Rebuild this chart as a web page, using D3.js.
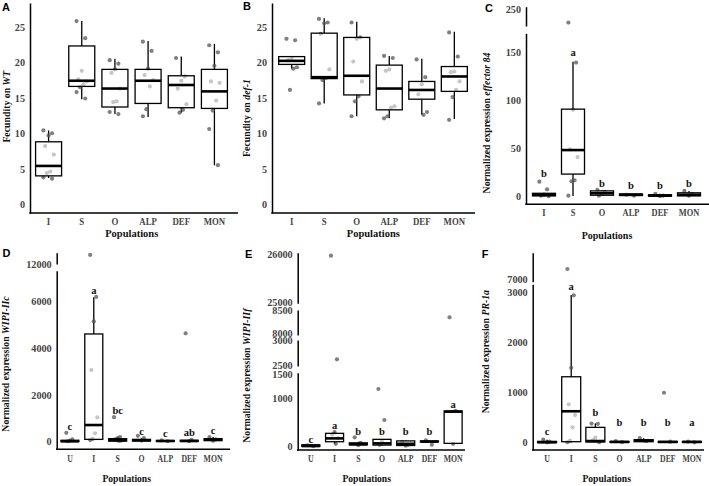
<!DOCTYPE html>
<html>
<head>
<meta charset="utf-8">
<script src="https://cdn.jsdelivr.net/npm/d3@7"></script>
<style>
body { margin:0; background:#fff; }
</style>
</head>
<body>
<svg id="fig" width="709" height="486"></svg>
<script>
const popsAB = ["I","S","O","ALP","DEF","MON"];
const popsDEF = ["U","I","S","O","ALP","DEF","MON"];

// box stats per population: [whisker low, q1, median, q3, whisker high]
const fecWT_box = [[3.7,4.0,5.4,8.8,10.4],[14.8,16.6,17.4,22.3,25.8],[12.7,13.7,16.3,19.0,20.5],
                   [12.3,14.2,17.4,19.0,23.0],[12.9,13.6,16.8,18.1,20.8],[5.5,13.5,15.9,19.0,22.6]];
const fecWT_pts = [[10.4,10.0,9.7,8.2,7.0,4.6,4.4,3.8,3.6],[25.8,23.4,18.8,17.6,17.3,16.9,16.5,15.8,14.9],
                   [20.3,19.8,19.0,18.5,16.3,14.5,14.4,13.0,12.7],[22.9,21.6,19.1,18.2,17.5,16.6,13.4,12.4],
                   [20.6,18.0,17.4,16.3,14.1,13.3,12.9],[22.4,21.4,19.5,17.3,17.1,14.6,13.2,10.6,5.5]];

const fecDef_box = [[19.1,19.7,20.2,20.8,20.8],[14.2,17.7,17.9,24.1,26.2],[12.4,15.4,18.1,23.5,25.7],
                    [12.1,13.3,16.3,19.6,20.9],[12.6,14.8,16.1,17.3,20.5],[12.0,15.9,18.0,19.4,24.3]];
const fecDef_pts = [[23.3,23.1,20.6,20.3,19.3,19.1,16.1],[26.1,25.6,25.5,24.0,19.0,17.8,17.5,14.2],
                    [25.6,23.5,23.3,20.1,17.3,15.2,14.5,12.4],[20.9,20.6,19.0,18.8,13.8,13.6,12.4,12.1],
                    [20.4,17.9,16.9,15.5,13.0,12.6],[24.2,20.8,18.7,18.6,17.3,16.1,15.1,11.9]];

const eff84_box = [[0.5,0.8,2,3.5,4],[0.7,23.4,48.3,90.7,139.7],[1,1.5,3.5,6,7],
                   [1,1.2,2,2.8,3],[0.5,0.6,1,2,3],[0.5,0.8,2,4,6]];
const eff84_pts = [[15.5,7.6,2,1,0.5],[186,139,90,49,41,17,16,1],[7,5,3,1],[2,1],[3,1,0.5],[6,3,1]];
const eff84_letters = ["b","a","b","b","b","b"];
const eff84_letterY = [24,150,14,12,12,14];

const wipiC_box = [[0,5,20,60,100],[70,100,714,4614,6186],[20,30,60,130,200],[20,30,60,100,150],
                   [10,15,30,50,60],[10,15,30,60,80],[40,50,80,130,200]];
const wipiC_pts = [[380,100,50,20],[12600,6200,5150,3070,1040,360,120,70],[1050,200,150,100,50,30],
                   [250,150,50],[60,20],[4640,80,20],[200,100,40]];
const wipiC_letters = ["c","a","bc","c","c","ab","c"];
const wipiC_letterY = [642,6467,1357,458,360,385,471];

const wipiF_box = [[0,5,15,40,50],[55,103,172,276,310],[30,40,50,80,100],[20,34,69,152,160],
                   [20,25,60,120,130],[100,100,105,120,130],[60,69,724,738,740]];
const wipiF_pts = [[30,10],[25965,2617,300,250,180,60],[193,80,30],[1192,552,100,40],
                   [100,40,20],[130,40],[8343,740,60]];
const wipiF_letters = ["c","a","b","b","b","b","a"];
const wipiF_letterY = [159,434,324,324,310,310,876];

const pr1a_box = [[0,3,10,25,60],[5,20,625,1311,2934],[10,15,33,305,384],[5,8,15,25,35],
                  [10,20,40,60,90],[5,8,15,25,30],[5,8,15,25,30]];
const pr1a_pts = [[60,20,5],[7382,2930,1490,762,550,305,40,10],[380,375,100,50,10],[30,10],
                  [90,30],[993,20],[20,5]];
const pr1a_letters = ["c","a","b","b","b","b","a"];
const pr1a_letterY = [219,3100,596,397,397,397,397];

const serif = '"Liberation Serif", "DejaVu Serif", serif';
const svg = d3.select("#fig");

const panels = [
  { tag:"A", pops:popsAB, box:fecWT_box, pts:fecWT_pts, ylab:["Fecundity on ","WT"],
    L:{ axisX:30, axisY:213, axisRight:238, xr:[32,231], bw:26, tickY:222, xs:0.84, popSize:10.5,
        segs:[{d:[-1.23,28.35], r:[213,3], t:[0,5,10,15,20,25]}],
        tag:[2,10.5], ylab:[6.3,106.7], pop:[131.7,233.3] } },
  { tag:"B", pops:popsAB, box:fecDef_box, pts:fecDef_pts, ylab:["Fecundity on ","def-1"],
    L:{ axisX:272, axisY:213, axisRight:475, xr:[275.4,470.6], bw:26, tickY:222, xs:0.84, popSize:10.5,
        segs:[{d:[-1.23,28.35], r:[213,3], t:[0,5,10,15,20,25]}],
        tag:[243,10], ylab:[247,118], pop:[373.3,233.3] } },
  { tag:"C", pops:popsAB, box:eff84_box, pts:eff84_pts, letters:eff84_letters, letterY:eff84_letterY,
    ylab:["Normalized expression  ","effector 84"],
    L:{ axisX:526, axisY:204.3, axisRight:709, xr:[529.5,703.5], bw:23, tickY:212.3, xs:0.8, popSize:10,
        segs:[{d:[-7.9,169.3], r:[204.3,33.3], t:[0,50,100,150]}, {d:[170,260], r:[26,6.7], t:[250]}],
        tag:[485,11.7], ylab:[486.3,123], pop:[607,235] } },
  { tag:"D", pops:popsDEF, box:wipiC_box, pts:wipiC_pts, letters:wipiC_letters, letterY:wipiC_letterY,
    ylab:["Normalized expression  ","WIPI-IIc"],
    L:{ axisX:56.7, axisY:449.3, axisRight:230, xr:[58,225], bw:18, tickY:459, xs:0.74, popSize:9.6,
        segs:[{d:[-325,7323], r:[449.3,270.7], t:[0,2000,4000,6000]}, {d:[12000,12750], r:[264,252.7], t:[12000]}],
        tag:[2.5,256.7], ylab:[6,364], pop:[126.7,479] } },
  { tag:"E", pops:popsDEF, box:wipiF_box, pts:wipiF_pts, letters:wipiF_letters, letterY:wipiF_letterY,
    ylab:["Normalized expression  ","WIPI-IIf"],
    L:{ axisX:297.7, axisY:450, axisRight:465, xr:[299,465], bw:18, tickY:458.3, xs:0.74, popSize:9.6,
        segs:[{d:[-68,1529], r:[450,372.7], t:[0,1000,1500]}, {d:[2479,3014], r:[366,340], t:[2500,3000]},
              {d:[7964,8500], r:[335,310], t:[8000,8500]}, {d:[24979,26027], r:[303.3,252.7], t:[25000,26000]}],
        tag:[245,258.3], ylab:[247,375.7], pop:[366.7,479] } },
  { tag:"F", pops:popsDEF, box:pr1a_box, pts:pr1a_pts, letters:pr1a_letters, letterY:pr1a_letterY,
    ylab:["Normalized expression  ","PR-1a"],
    L:{ axisX:532.7, axisY:450, axisRight:704, xr:[535,704], bw:19, tickY:459, xs:0.74, popSize:9.6,
        segs:[{d:[-145,3149], r:[450,284.3], t:[0,1000,2000,3000]}, {d:[6900,8000], r:[281.7,252.7], t:[7000]}],
        tag:[481.7,258.3], ylab:[486,351.7], pop:[606.7,479] } }
];

function drawPanel(p) {
  const L = p.L;
  const g = svg.append("g");
  const x = d3.scaleBand().domain(p.pops).range(L.xr);
  const segs = L.segs.map(s => ({ d:s.d, t:s.t, scale:d3.scaleLinear().domain(s.d).range(s.r) }));
  const yOf = v => (segs.find(s => v >= s.d[0] && v <= s.d[1]) || segs[0]).scale(v);
  const cx = k => x(k) + x.bandwidth() / 2;

  // y axis, one piece per segment (broken axis)
  segs.forEach(s => {
    const ax = g.append("g")
      .attr("transform", `translate(${L.axisX},0)`)
      .call(d3.axisLeft(s.scale).tickValues(s.t).tickSize(0).tickPadding(5).tickFormat(d3.format("d")));
    ax.attr("font-family", serif);
    ax.select(".domain").attr("stroke", "#000").attr("stroke-width", 1.5);
    ax.selectAll("text").attr("fill", "#444").attr("font-size", 10.2).attr("font-weight", "bold");
  });

  // x axis
  const xa = g.append("g")
    .attr("transform", `translate(0,${L.tickY - 6})`)
    .call(d3.axisBottom(x).tickSize(0).tickPadding(0));
  xa.attr("font-family", serif);
  xa.select(".domain").remove();
  xa.selectAll("text").attr("fill", "#444").attr("font-size", 10.5).attr("font-weight", "bold")
    .attr("dy", "0.9em").attr("transform", `scale(${L.xs},1)`);
  g.append("line")
    .attr("x1", L.axisX - 0.75).attr("x2", L.axisRight)
    .attr("y1", L.axisY).attr("y2", L.axisY)
    .attr("stroke", "#000").attr("stroke-width", 1.5);

  p.pops.forEach((k, i) => {
    const [lo, q1, med, q3, hi] = p.box[i];
    const c = cx(k);
    const bw = L.bw;
    g.append("line").attr("x1", c).attr("x2", c).attr("y1", yOf(hi)).attr("y2", yOf(q3))
      .attr("stroke", "#000").attr("stroke-width", 1.3);
    g.append("line").attr("x1", c).attr("x2", c).attr("y1", yOf(q1)).attr("y2", yOf(lo))
      .attr("stroke", "#000").attr("stroke-width", 1.3);

    g.selectAll(null).data(p.pts[i]).enter().append("circle")
      .attr("cx", (d, j) => c + bw * 0.2 * (((j * 5) % 7) - 3) / 3)
      .attr("cy", d => yOf(d))
      .attr("r", 2.1)
      .attr("fill", "#555")
      .attr("fill-opacity", 0.75);

    g.append("rect")
      .attr("x", c - bw / 2).attr("width", bw)
      .attr("y", yOf(q3)).attr("height", Math.max(0.5, yOf(q1) - yOf(q3)))
      .attr("fill", "#fff").attr("fill-opacity", 0.55)
      .attr("stroke", "#000").attr("stroke-width", 1.3);
    g.append("line").attr("x1", c - bw / 2).attr("x2", c + bw / 2)
      .attr("y1", yOf(med)).attr("y2", yOf(med))
      .attr("stroke", "#000").attr("stroke-width", 2.6);

    if (p.letters) {
      g.append("text").attr("x", c).attr("y", yOf(p.letterY[i])).attr("dy", "0.35em")
        .attr("text-anchor", "middle").attr("font-family", serif).attr("font-weight", "bold")
        .attr("font-size", 10.5).attr("fill", "#111").text(p.letters[i]);
    }
  });

  // axis titles
  const yl = g.append("text")
    .attr("transform", `translate(${L.ylab[0]},${L.ylab[1]}) rotate(-90)`)
    .attr("dy", "0.35em").attr("text-anchor", "middle")
    .attr("font-family", serif).attr("font-weight", "bold").attr("font-size", 9.8).attr("fill", "#111");
  yl.append("tspan").text(p.ylab[0]);
  yl.append("tspan").attr("font-style", "italic").text(p.ylab[1]);

  g.append("text").attr("x", L.pop[0]).attr("y", L.pop[1]).attr("dy", "0.35em")
    .attr("text-anchor", "middle").attr("font-family", serif).attr("font-weight", "bold")
    .attr("font-size", L.popSize).attr("fill", "#111").text("Populations");

  g.append("text").attr("x", L.tag[0]).attr("y", L.tag[1])
    .attr("font-family", '"Liberation Sans", Arial, sans-serif').attr("font-weight", "bold")
    .attr("font-size", 11).attr("fill", "#000").text(p.tag);
}

panels.forEach(drawPanel);
</script>
</body>
</html>
